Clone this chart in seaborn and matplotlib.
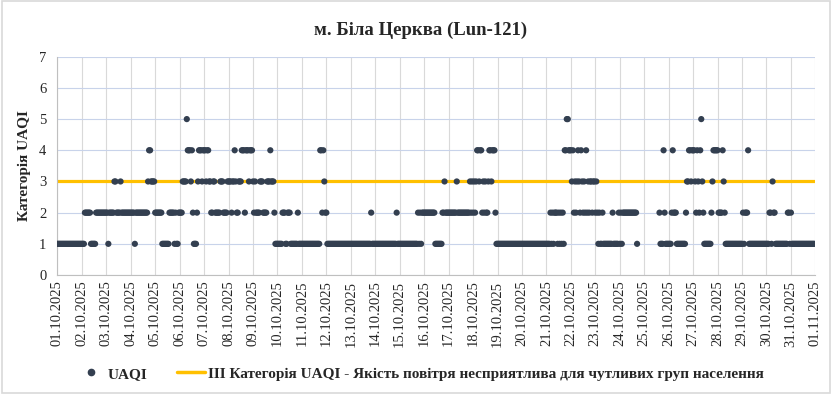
import numpy as np
import pandas as pd
import seaborn as sns
import matplotlib.pyplot as plt
import matplotlib.dates as mdates
from matplotlib.lines import Line2D
from matplotlib.patches import Rectangle

# hourly UAQI category, written as runs of (category, hours)
# np.nan = hours without data
runs_01_05 = [(1, 27), (2, 6), (1, 5), (2, 12), (1, 1), (2, 5), (3, 2), (2, 4), (3, 1),
              (2, 13), (1, 1), (2, 12), (3, 1), (4, 2), (3, 4), (2, 7), (1, 7), (2, 5),
              (1, 1), (2, 1), (1, 2)]
runs_05_09 = [(2, 4), (3, 4), (5, 1), (4, 3), (3, 1), (4, 1), (2, 1), (1, 3), (2, 1),
              (3, 1), (4, 3), (3, 1), (4, 3), (3, 1), (4, 2), (3, 2), (2, 2), (3, 2),
              (2, 5), (3, 3), (2, 4), (3, 4), (2, 1), (3, 2), (4, 1), (3, 1), (2, 2),
              (3, 3), (4, 3), (2, 1), (4, 3), (3, 1), (4, 3), (3, 1), (2, 1), (3, 1),
              (2, 4), (3, 3), (2, 4), (3, 3), (4, 1), (3, 3), (2, 1)]
runs_09_18 = [(1, 7), (2, 3), (1, 2), (2, 3), (1, 7), (2, 1), (1, 21), (4, 2), (2, 1),
              (4, 1), (3, 1), (2, 2), (1, 43), (2, 1), (1, 24), (2, 1), (1, 20), (2, 1),
              (1, 1), (2, 1), (1, 1), (2, 13), (1, 7), (2, 2), (3, 1), (2, 11), (3, 1),
              (2, 12), (3, 1), (2, 1), (3, 1), (2, 1), (3, 1), (2, 1), (3, 1), (4, 2),
              (3, 1), (4, 2), (2, 1), (3, 1), (2, 1), (3, 1), (2, 2), (3, 1), (4, 2),
              (3, 1), (4, 3), (2, 1)]
runs_18_24 = [(1, 53), (2, 1), (1, 1), (2, 1), (1, 1), (2, 3), (1, 1), (2, 1), (1, 1),
              (2, 1), (1, 1), (2, 1), (1, 1), (4, 2), (5, 2), (4, 3), (3, 1), (4, 1),
              (2, 1), (3, 1), (2, 1), (3, 1), (4, 1), (3, 1), (2, 1), (4, 1), (3, 1),
              (2, 1), (3, 1), (2, 1), (4, 1), (2, 1), (3, 1), (2, 1), (3, 2), (2, 1),
              (3, 2), (2, 1), (3, 1), (2, 1), (1, 1), (2, 1), (1, 2), (2, 1), (1, 9),
              (2, 1), (1, 5), (2, 1), (1, 1), (2, 1), (1, 1), (2, 14), (1, 1)]
runs_24_31 = [(np.nan, 21), (2, 1), (1, 3), (4, 1), (2, 1), (1, 6), (2, 1), (4, 1), (2, 3),
              (1, 9), (2, 1), (3, 2), (4, 2), (3, 1), (4, 3), (3, 1), (2, 1), (4, 1),
              (3, 1), (2, 1), (4, 1), (5, 1), (3, 1), (2, 1), (1, 7), (2, 1), (3, 1),
              (4, 5), (2, 4), (4, 1), (3, 1), (2, 1), (1, 17), (2, 1), (1, 1), (2, 3),
              (4, 1), (1, 20), (2, 2), (1, 1), (3, 1), (2, 2), (1, 12), (2, 2), (1, 1),
              (2, 1), (1, 23)]
threshold = 3

title = "м. Біла Церква (Lun-121)"
y_label = "Категорія UAQI"
series_name = "UAQI"
threshold_name = "ІІІ Категорія UAQI - Якість повітря несприятлива для чутливих груп населення"

runs = runs_01_05 + runs_05_09 + runs_09_18 + runs_18_24 + runs_24_31
uaqi = np.concatenate([np.full(n, v, dtype=float) for v, n in runs])
times = pd.date_range("2025-10-01 00:00", periods=len(uaqi), freq="h")
df = pd.DataFrame({"time": times, "UAQI": uaqi}).dropna()

sns.set_style("whitegrid")
plt.rcParams["font.family"] = ["Liberation Serif", "DejaVu Serif"]

dot_color = "#333F50"
line_color = "#FFC000"

fig = plt.figure(figsize=(8.32, 3.94), dpi=100)
ax = fig.add_axes([0.069, 0.302, 0.911, 0.554])

ax.axhline(threshold, color=line_color, lw=2.3, zorder=2)
sns.scatterplot(data=df, x="time", y="UAQI", ax=ax, color=dot_color, s=20,
                edgecolor="none", zorder=3, legend=False)

ax.set_xlim(pd.Timestamp("2025-10-01"), pd.Timestamp("2025-11-01"))
ax.set_ylim(0, 7)
ax.set_yticks(range(0, 8))
ax.xaxis.set_major_locator(mdates.DayLocator())
ax.xaxis.set_major_formatter(mdates.DateFormatter("%d.%m.%Y"))
ax.tick_params(axis="x", labelrotation=90, labelsize=10.5, length=0, pad=4)
ax.tick_params(axis="y", labelsize=10.5, length=0, pad=8)

ax.grid(axis="x", color="#d9d9d9", lw=0.8)
ax.grid(axis="y", color="#c8d3ea", lw=0.8)
for side in ["top", "right"]:
    ax.spines[side].set_visible(False)
for side in ["left", "bottom"]:
    ax.spines[side].set_color("#bfbfbf")
    ax.spines[side].set_linewidth(0.8)

ax.set_xlabel("")
ax.set_ylabel(y_label, fontweight="bold", fontsize=11, labelpad=6)

fig.text(0.506, 0.924, title, ha="center", va="center", fontsize=13.5, fontweight="bold")

handles = [Line2D([], [], marker="o", ls="none", color=dot_color, markersize=4.5),
           Line2D([], [], color=line_color, lw=2.5)]
fig.legend(handles, [series_name, threshold_name], loc="center",
           bbox_to_anchor=(0.505, 0.051), ncol=2, frameon=False,
           prop={"weight": "bold", "size": 11}, columnspacing=1.9,
           handlelength=1.85, handletextpad=0.2)

fig.patches.append(Rectangle((0.002, 0.003), 0.996, 0.994, transform=fig.transFigure,
                             fill=False, edgecolor="#d9d9d9", lw=1.2))

fig.savefig("out.png", dpi=100)
